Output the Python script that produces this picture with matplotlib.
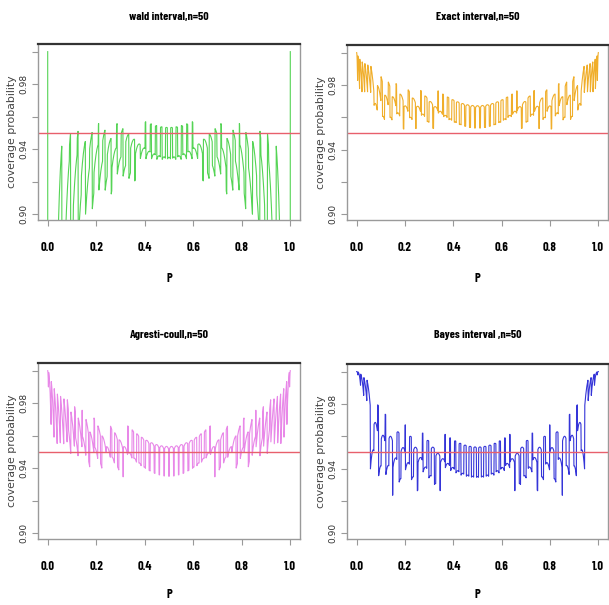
import math
import numpy as np
import matplotlib
matplotlib.use("Agg")
import matplotlib.pyplot as plt

# ---------------- data parameters ----------------
n_trials = 50
conf_level = 0.95
z_value = 1.96
p_grid = np.round(np.arange(0.0, 1.0 + 1e-9, 0.001), 6)
titles = ["wald interval,n=50", "Exact interval,n=50",
          "Agresti-coull,n=50", "Bayes interval ,n=50"]
line_colors = ["#55d455", "#f0ae2a", "#e888e8", "#3535d8"]
x_ticks = [0.0, 0.2, 0.4, 0.6, 0.8, 1.0]
x_tick_labels = ["0.0", "0.2", "0.4", "0.6", "0.8", "1.0"]
y_ticks = [0.90, 0.92, 0.94, 0.96, 0.98, 1.00]
y_tick_labels = ["0.90", "", "0.94", "", "0.98", ""]
nominal = 0.95

n = n_trials
xs = np.arange(n + 1)
alpha = 1 - conf_level
log_comb = np.array([math.lgamma(n + 1) - math.lgamma(k + 1) - math.lgamma(n - k + 1) for k in xs])


def pmf_matrix(p):
    p = np.atleast_1d(np.asarray(p, dtype=float))[:, None]
    return np.exp(log_comb[None, :]) * np.power(p, xs[None, :]) * np.power(1 - p, n - xs[None, :])


def coverage(lower, upper):
    pm = pmf_matrix(p_grid)
    inside = (lower[None, :] <= p_grid[:, None] + 1e-12) & (p_grid[:, None] <= upper[None, :] + 1e-12)
    return (pm * inside).sum(axis=1)


def bisect(f, target, increasing):
    lo, hi = 0.0, 1.0
    for _ in range(60):
        mid = 0.5 * (lo + hi)
        if (f(mid) < target) == increasing:
            lo = mid
        else:
            hi = mid
    return 0.5 * (lo + hi)


# Wald
ph = xs / n
se = np.sqrt(ph * (1 - ph) / n)
wald_lo, wald_hi = ph - z_value * se, ph + z_value * se

# Clopper-Pearson exact
cp_lo = np.zeros(n + 1)
cp_hi = np.ones(n + 1)
for k in xs:
    if k > 0:
        cp_lo[k] = bisect(lambda q: pmf_matrix(q)[0, k:].sum(), alpha / 2, True)
    if k < n:
        cp_hi[k] = bisect(lambda q: pmf_matrix(q)[0, :k + 1].sum(), alpha / 2, False)

# Agresti-Coull
nt = n + z_value ** 2
pt = (xs + z_value ** 2 / 2) / nt
ac_se = np.sqrt(pt * (1 - pt) / nt)
ac_lo, ac_hi = pt - z_value * ac_se, pt + z_value * ac_se

# Bayes (uniform prior): posterior mean +/- z * posterior sd
post_mean = (xs + 1) / (n + 2)
post_sd = np.sqrt(post_mean * (1 - post_mean) / (n + 3))
by_lo, by_hi = post_mean - z_value * post_sd, post_mean + z_value * post_sd

cov = [coverage(wald_lo, wald_hi), coverage(cp_lo, cp_hi),
       coverage(ac_lo, ac_hi), coverage(by_lo, by_hi)]

# ---------------- drawing ----------------
W, H = 609, 605
fig = plt.figure(figsize=(W / 100, H / 100), dpi=100)
boxes = [(38, 44, 300, 220), (347, 45, 608, 220), (38, 363, 300, 539), (347, 364, 608, 539)]
title_y = [17, 17, 335, 335]

narrow = ["Barlow Condensed", "Archivo Narrow", "DejaVu Sans"]

for i, (l, t, r, b) in enumerate(boxes):
    ax = fig.add_axes([l / W, 1 - b / H, (r - l) / W, (b - t) / H])
    ax.plot(p_grid, cov[i], color=line_colors[i], lw=0.8)
    ax.axhline(nominal, color="#e8606c", lw=1.0)
    ax.set_xlim(-0.04, 1.04)
    ax.set_ylim(0.8965, 1.0047)
    ax.set_xticks(x_ticks)
    ax.set_xticklabels(x_tick_labels, fontfamily=narrow, fontweight="bold", fontsize=9)
    ax.set_yticks(y_ticks)
    ax.set_yticklabels(y_tick_labels, rotation=90, va="center", fontsize=6.5, color="#333333")
    ax.tick_params(axis="x", length=4, width=0.8, color="#999999", pad=12)
    ax.tick_params(axis="y", length=4, width=0.8, color="#999999", pad=3)
    for sp in ["left", "right", "bottom"]:
        ax.spines[sp].set_color("#9a9a9a")
        ax.spines[sp].set_linewidth(1.0)
    ax.spines["top"].set_color("#333333")
    ax.spines["top"].set_linewidth(1.6)
    ax.set_ylabel("coverage probability", fontsize=7.8, color="#444444", va="center")
    ax.yaxis.set_label_coords(-26 / (r - l), 0.5)
    ax.set_xlabel("P", fontfamily=narrow, fontweight="bold", fontsize=9, va="center")
    ax.xaxis.set_label_coords(0.5, -(58 if i < 2 else 56) / (b - t))
    fig.text((l + r) / 2 / W, 1 - title_y[i] / H, titles[i], ha="center", va="center",
             fontfamily=narrow, fontweight="bold", fontsize=8.5)

fig.savefig("out.png", dpi=100)
